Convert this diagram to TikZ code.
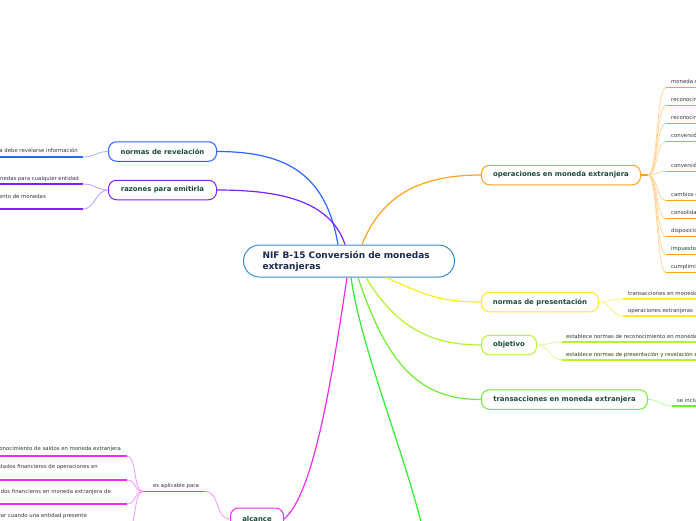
\documentclass[tikz,border=0pt]{standalone}
\usepackage{fontspec}
\setmainfont{DejaVu Sans}
\definecolor{blueC}{HTML}{2A66FF}
\definecolor{purpleC}{HTML}{7B22F8}
\definecolor{orangeC}{HTML}{FFA21C}
\definecolor{yellowC}{HTML}{FFEA22}
\definecolor{ygreenC}{HTML}{B4F22C}
\definecolor{greenC}{HTML}{6FEE30}
\definecolor{bgreenC}{HTML}{2EEE2E}
\definecolor{magC}{HTML}{EE2EEE}
\definecolor{ctrC}{HTML}{3A8AD0}
\definecolor{topicText}{HTML}{1C4A3A}
\definecolor{titleText}{HTML}{1B2A4C}
\definecolor{childText}{HTML}{333333}
\begin{document}
\begin{tikzpicture}[x=1pt,y=-1pt,
  topic/.style={draw, line width=1pt, rounded corners=8pt, fill=white, text=topicText,
    font=\fontsize{6.9}{8}\selectfont\bfseries, inner sep=0pt, minimum height=19.5pt, anchor=west},
  childtxt/.style={font=\fontsize{5.35}{6.4}\selectfont, text=childText, inner sep=0pt},
  mainline/.style={line width=1.2pt},
  subline/.style={line width=0.8pt},
  uline/.style={line width=1.5pt}]
\useasboundingbox (0,0) rectangle (696,520);

% ---------- topic nodes ----------
\node[draw=ctrC, line width=1pt, rounded corners=16pt, fill=white, anchor=west,
  minimum width=211pt, minimum height=32pt, text width=173pt, align=left,
  inner xsep=19pt, inner ysep=0pt, font=\fontsize{9}{11}\selectfont\bfseries, text=titleText]
  (ctr) at (243,261) {NIF B-15 Conversión de monedas\\extranjeras};

\node[topic, draw=blueC, minimum width=108pt] (rev) at (108,151.5) {normas de revelación};
\node[topic, draw=purpleC, minimum width=108pt] (raz) at (108,190) {razones para emitirla};
\node[topic, draw=orangeC, minimum width=159pt] (ope) at (481,175) {operaciones en moneda extranjera};
\node[topic, draw=yellowC, minimum width=117pt] (pre) at (481,302) {normas de presentación};
\node[topic, draw=ygreenC, minimum width=55pt] (obj) at (481,345) {objetivo};
\node[topic, draw=greenC, minimum width=166pt] (tra) at (481,399.5) {transacciones en moneda extranjera};
\node[topic, draw=magC, minimum width=53pt, minimum height=22pt] (alc) at (230,519) {alcance};
\coordinate (bgEnd) at (422,526);

% ---------- main connectors ----------
\draw[mainline, blueC] ([xshift=-11pt]ctr.north) .. controls +(-12,-70) and +(70,0) .. (rev.east);
\draw[mainline, purpleC] ([xshift=-4pt]ctr.north) .. controls +(-15,-45) and +(60,0) .. (raz.east);
\draw[mainline, orangeC] ([xshift=13pt]ctr.north) .. controls +(20,-50) and +(-60,0) .. (ope.west);
\draw[mainline, yellowC] ([xshift=37pt]ctr.south) .. controls +(40,18) and +(-40,0) .. (pre.west);
\draw[mainline, ygreenC] ([xshift=17pt]ctr.south) .. controls +(30,50) and +(-50,0) .. (obj.west);
\draw[mainline, greenC] ([xshift=9pt]ctr.south) .. controls +(30,90) and +(-60,0) .. (tra.west);
\draw[mainline, bgreenC] ([xshift=2pt]ctr.south) .. controls +(10,70) and +(-20,-80) .. (bgEnd);
\draw[mainline, magC] ([xshift=-2pt]ctr.south) .. controls +(-15,100) and +(30,-25) .. (alc.east);

% ---------- normas de revelacion ----------
\coordinate (rvA) at (-5,157); \coordinate (rvB) at (83,157);
\draw[uline, blueC] (rvA) -- (rvB);
\draw[subline, blueC!45] (rev.west) .. controls +(-12,0) and +(12,0) .. (rvB);
\node[childtxt, anchor=base east] (rvT) at (78,152.5) {establece en qué forma debe revelarse información};

% ---------- razones para emitirla ----------
\coordinate (rzA1) at (-5,184); \coordinate (rzB1) at (83,184);
\coordinate (rzA2) at (-5,209); \coordinate (rzB2) at (83,209);
\draw[uline, purpleC] (rzA1) -- (rzB1);
\draw[uline, purpleC] (rzA2) -- (rzB2);
\draw[subline, purpleC!45] (raz.west) .. controls +(-12,0) and +(12,0) .. (rzB1);
\draw[subline, purpleC!45] (raz.west) .. controls +(-12,0) and +(12,0) .. (rzB2);
\node[childtxt, anchor=base east] (rzT1) at (79,180) {establece normas de conversión de monedas para cualquier entidad};
\node[childtxt, anchor=base east] (rzT2) at (46,198) {establece normas para el tratamiento de monedas};

% ---------- operaciones en moneda extranjera ----------
\coordinate (opeS) at (648,175);
\draw[uline, orangeC] (ope.east) -- (opeS);
\foreach \i/\y/\t in {
  1/87.5/{moneda de registro, funcional y de informe},
  2/105.5/{reconocimiento inicial},
  3/123.5/{reconocimiento posterior},
  4/141.5/{conversión de moneda de registro a funcional},
  5/171.5/{conversión de moneda funcional a moneda de informe},
  6/200.5/{cambios en la moneda funcional},
  7/218.5/{consolidación de operaciones extranjeras},
  8/236.5/{disposición de una operación extranjera},
  9/254.5/{impuestos a la utilidad y PTU},
  10/272.5/{cumplimiento de normas}} {
  \coordinate (ou\i) at (666,\y);
  \coordinate (oe\i) at (700,\y);
  \draw[uline, orangeC] (ou\i) -- (oe\i);
  \draw[subline, orangeC!45] (opeS) .. controls +(10,0) and +(-10,0) .. (ou\i);
  \node[childtxt, anchor=base west] (ot\i) at (671,\y-4) {\t};
}

% ---------- normas de presentacion ----------
\coordinate (psA1) at (623,299); \coordinate (psB1) at (700,299);
\coordinate (psA2) at (623,316); \coordinate (psB2) at (700,316);
\draw[uline, yellowC] (psA1) -- (psB1);
\draw[uline, yellowC] (psA2) -- (psB2);
\draw[subline, yellowC!55] (pre.east) .. controls +(12,0) and +(-12,0) .. (psA1);
\draw[subline, yellowC!55] (pre.east) .. controls +(12,0) and +(-12,0) .. (psA2);
\node[childtxt, anchor=base west] (psT1) at (628,295) {transacciones en moneda extranjera};
\node[childtxt, anchor=base west] (psT2) at (628,312.5) {operaciones extranjeras};

% ---------- objetivo ----------
\coordinate (obA1) at (562,342); \coordinate (obB1) at (700,342);
\coordinate (obA2) at (562,360); \coordinate (obB2) at (700,360);
\draw[uline, ygreenC] (obA1) -- (obB1);
\draw[uline, ygreenC] (obA2) -- (obB2);
\draw[subline, ygreenC!50] (obj.east) .. controls +(12,0) and +(-12,0) .. (obA1);
\draw[subline, ygreenC!50] (obj.east) .. controls +(12,0) and +(-12,0) .. (obA2);
\node[childtxt, anchor=base west] (obT1) at (566,338) {establece normas de reconocimiento en moneda extranjera};
\node[childtxt, anchor=base west] (obT2) at (566,356) {establece normas de presentación y revelación en los estados financieros};

% ---------- transacciones ----------
\coordinate (trA) at (672,406); \coordinate (trB) at (700,406);
\draw[uline, greenC] (trA) -- (trB);
\draw[subline, greenC!50] (tra.east) .. controls +(12,0) and +(-12,0) .. (trA);
\node[childtxt, anchor=base west] (trT) at (677,402) {se incluyen};

% ---------- alcance ----------
\coordinate (apA) at (143,491.5); \coordinate (apB) at (205,491.5);
\draw[uline, magC] (apA) -- (apB);
\draw[subline, magC!50] (alc.west) .. controls +(-15,0) and +(15,0) .. (apB);
\node[childtxt, anchor=base west] (apT) at (153,487) {es aplicable para};
\foreach \i/\y/\by/\x/\t in {
  1/456/450/121/{en el reconocimiento de saldos en moneda extranjera},
  2/480/468.5/98/{en la conversión de estados financieros de operaciones en},
  3/504/493/111/{en la conversión de estados financieros en moneda extranjera de},
  4/530/517.5/87/{el cambio de moneda a utilizar cuando una entidad presente}} {
  \coordinate (aA\i) at (-5,\y);
  \coordinate (aB\i) at (127,\y);
  \draw[uline, magC] (aA\i) -- (aB\i);
  \draw[subline, magC!50] (apA) .. controls +(-10,0) and +(10,0) .. (aB\i);
  \node[childtxt, anchor=base east] (aT\i) at (\x,\by) {\t};
}
\end{tikzpicture}
\end{document}
